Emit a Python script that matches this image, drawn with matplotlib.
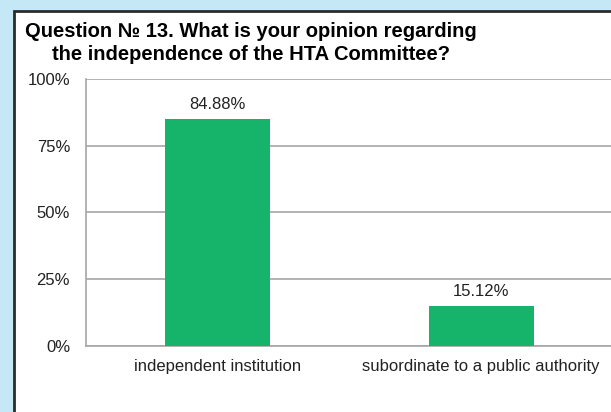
import matplotlib.pyplot as plt
from matplotlib.patches import Rectangle

categories = ['independent institution', 'subordinate to a public authority']
values = [84.88, 15.12]
yticks = [0, 25, 50, 75, 100]
title = 'Question \u2116 13. What is your opinion regarding\nthe independence of the HTA Committee?'

plt.rcParams['font.family'] = ['Liberation Sans', 'DejaVu Sans']

W, H = 611, 412
fig = plt.figure(figsize=(W / 100, H / 100), dpi=100)
fig.patch.set_facecolor('#C5E8F7')

# white panel with dark frame, cut off at right and bottom
panel = Rectangle((14 / W, -0.1), 1.2, 1 - 11 / H + 0.1, transform=fig.transFigure,
                  facecolor='white', edgecolor='#2B2B2B', linewidth=2, zorder=-5)
fig.patches.append(panel)

ax = fig.add_axes([86 / W, 1 - 346 / H, (613 - 86) / W, (346 - 79) / H])
ax.set_facecolor('none')

x = range(len(categories))
bars = ax.bar(x, values, width=0.4, color='#16B46A', zorder=3)
for b, v in zip(bars, values):
    ax.annotate(f'{v:.2f}%', (b.get_x() + b.get_width() / 2, v), xytext=(0, 10.5),
                textcoords='offset points', ha='center', va='center',
                fontsize=12, color='#222222')

ax.set_xlim(-0.5, 1.5)
ax.set_ylim(0, 100)
ax.set_yticks(yticks)
ax.set_yticklabels([f'{t}%' for t in yticks], fontsize=12, color='#222222')
ax.set_xticks(list(x))
ax.set_xticklabels(categories, fontsize=12, color='#222222')
ax.tick_params(axis='both', length=0)
ax.tick_params(axis='y', pad=11.5)
ax.tick_params(axis='x', pad=9.5)
ax.yaxis.grid(True, color='#A6A6A6', linewidth=1.2, zorder=0)
for s in ['top', 'right']:
    ax.spines[s].set_visible(False)
ax.spines['left'].set_color('#A6A6A6')
ax.spines['bottom'].set_color('#A6A6A6')
ax.spines['left'].set_linewidth(1.2)
ax.spines['bottom'].set_linewidth(1.2)

fig.text(251 / W, 1 - 43 / H, title, ha='center', va='center', fontsize=14.5,
         fontweight='bold', linespacing=1.3, color='black')

fig.savefig('out.png', dpi=100, facecolor=fig.get_facecolor())
